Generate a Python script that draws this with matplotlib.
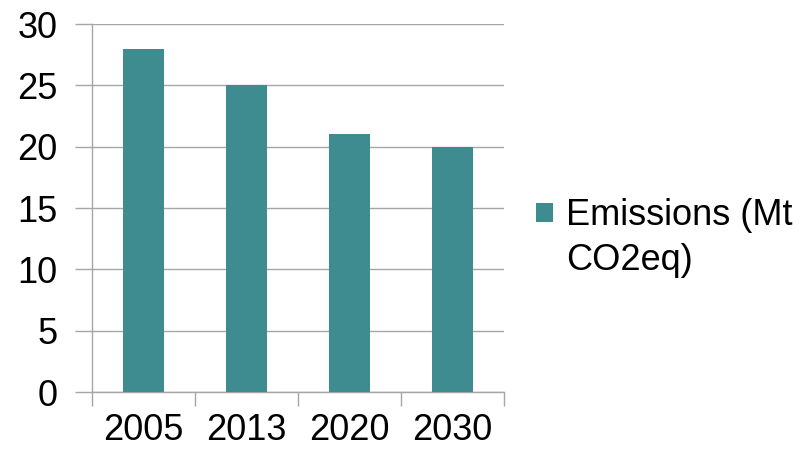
import matplotlib
matplotlib.use("Agg")
import matplotlib.pyplot as plt
from matplotlib.ticker import FixedLocator
from matplotlib.patches import Patch

years = ["2005", "2013", "2020", "2030"]
emissions = [28, 25, 21, 20]
series_label = ["Emissions (Mt", "CO2eq)"]
teal = "#3E8B90"
grid_gray = "#A6A6A6"

plt.rcParams["font.family"] = ["Liberation Sans", "DejaVu Sans"]

fig = plt.figure(figsize=(8.05, 4.51), dpi=100)
ax = fig.add_axes([92 / 805, 1 - 392 / 451, (504 - 92) / 805, (392 - 24) / 451])

x = list(range(len(years)))
ax.bar(x, emissions, width=0.4, color=teal, zorder=3)

ax.set_xlim(-0.5, len(years) - 0.5)
ax.set_ylim(0, 30)
ax.set_yticks(range(0, 31, 5))
ax.yaxis.grid(True, color=grid_gray, linewidth=1, zorder=0)

ax.set_xticks(x)
ax.set_xticklabels(years)
ax.xaxis.set_minor_locator(FixedLocator([i - 0.5 for i in range(len(years) + 1)]))
ax.tick_params(axis="x", which="major", length=0, pad=15, labelsize=26)
ax.tick_params(axis="x", which="minor", length=10, width=1, color=grid_gray)
ax.tick_params(axis="y", length=12, width=1, color=grid_gray, pad=13, labelsize=26)

for side in ("top", "right"):
    ax.spines[side].set_visible(False)
for side in ("left", "bottom"):
    ax.spines[side].set_color(grid_gray)
    ax.spines[side].set_linewidth(1)

# second legend row has a hidden handle so the label wraps like the original
handles = [Patch(facecolor=teal, edgecolor="none"), Patch(facecolor="none", edgecolor="none")]
fig.legend(handles, series_label, loc="center left", bbox_to_anchor=(522 / 805, 1 - 238 / 451),
           frameon=False, fontsize=26, handlelength=0.45, handleheight=0.45,
           handletextpad=0.38, labelspacing=0.25, borderaxespad=0)

fig.savefig("out.png", dpi=100)
